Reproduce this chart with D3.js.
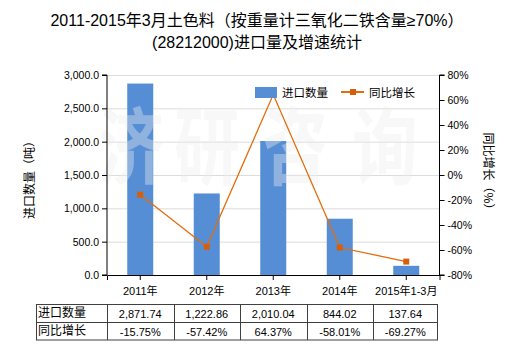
<!DOCTYPE html>
<html><head><meta charset="utf-8">
<script src="https://cdn.jsdelivr.net/npm/d3@7"></script>
<style>body{margin:0;background:#fff}svg{display:block}text{font-family:"Liberation Sans",Arial,"Noto Sans CJK SC",sans-serif}</style>
</head><body><svg id="c" width="520" height="350"></svg>
<script>
const categories = ["2011年","2012年","2013年","2014年","2015年1-3月"];
const importQty = [2871.74, 1222.86, 2010.04, 844.02, 137.64];
const yoyGrowth = [-15.75, -57.42, 64.37, -58.01, -69.27];
const qtyLabels = ["2,871.74","1,222.86","2,010.04","844.02","137.64"];
const growthLabels = ["-15.75%","-57.42%","64.37%","-58.01%","-69.27%"];
const leftTicks = [0,500,1000,1500,2000,2500,3000];
const rightTicks = [-80,-60,-40,-20,0,20,40,60,80];
const titleLines = ["2011-2015年3月土色料（按重量计三氧化二铁含量≥70%）","(28212000)进口量及增速统计"];
const watermarkChars = ["济","研","咨","询"];

const svg = d3.select("#c");
const L=107, R=439.5, T=75, B=275;
const x = d3.scaleBand().domain(categories).range([L,R]);
const yL = d3.scaleLinear().domain([0,3000]).range([B,T]);
const yR = d3.scaleLinear().domain([-80,80]).range([B,T]);
const cjk = '"Noto Sans CJK SC",sans-serif';
const latinFirst = '"Liberation Sans",Arial,"Noto Sans CJK SC",sans-serif';

// title
svg.selectAll("text.title").data(titleLines).enter().append("text")
  .attr("x",257).attr("y",(d,i)=>26+i*22).attr("text-anchor","middle")
  .style("font-family",latinFirst).style("font-size","16px").attr("fill","#000").text(d=>d);

// gridlines
svg.append("g").selectAll("line").data(leftTicks.slice(1)).enter().append("line")
  .attr("x1",L).attr("x2",R).attr("y1",d=>yL(d)+0.5).attr("y2",d=>yL(d)+0.5)
  .attr("stroke","#dcdcdc").attr("stroke-width",1);

// bars
const bw = 26;
svg.append("g").selectAll("rect").data(importQty).enter().append("rect")
  .attr("x",(d,i)=>x(categories[i])+x.bandwidth()/2-bw/2)
  .attr("y",d=>yL(d)).attr("width",bw).attr("height",d=>B-yL(d))
  .attr("fill","#558ed5");

// watermark
const wmX = [131,207,295,385];
svg.append("g").selectAll("text").data(watermarkChars).enter().append("text")
  .attr("transform",(d,i)=>`translate(${wmX[i]},178) scale(0.78,1)`)
  .attr("text-anchor","middle")
  .style("font-family",latinFirst).style("font-size","84px").style("font-weight","bold")
  .attr("fill","#ededed").attr("opacity",0.38).text(d=>d);

// line
const line = d3.line().x((d,i)=>x(categories[i])+x.bandwidth()/2).y(d=>yR(d));
svg.append("path").datum(yoyGrowth).attr("d",line).attr("fill","none")
  .attr("stroke","#e46c0a").attr("stroke-width",1.3);
svg.append("g").selectAll("rect").data(yoyGrowth).enter().append("rect")
  .attr("x",(d,i)=>x(categories[i])+x.bandwidth()/2-3).attr("y",d=>yR(d)-3)
  .attr("width",6).attr("height",6).attr("fill","#d55f0c");

// axes
const axL = d3.axisLeft(yL).tickValues(leftTicks).tickSize(5).tickFormat(d3.format(",.1f"));
const gL = svg.append("g").attr("transform",`translate(${L},0)`).call(axL);
const axR = d3.axisRight(yR).tickValues(rightTicks).tickSize(5).tickFormat(d=>d+"%");
const gR = svg.append("g").attr("transform",`translate(${R},0)`).call(axR);
const axB = d3.axisBottom(x).tickSize(5).tickPadding(7);
const gB = svg.append("g").attr("transform",`translate(0,${B})`).call(axB);
[gL,gR,gB].forEach(g=>{
  g.selectAll("path.domain").attr("stroke","#000");
  g.selectAll(".tick line").attr("stroke","#000");
  g.selectAll("text").attr("fill","#000").style("font-size","10.5px")
   .style("font-family",latinFirst);
});
gB.selectAll("text").style("font-size","11px");
gL.select("path.domain").attr("d",`M-5,${T}H0V${B}H-5`);
gR.select("path.domain").attr("d",`M5,${T}H0V${B}H5`);

// axis titles
svg.append("text").attr("transform","translate(34,177) rotate(-90)").attr("text-anchor","middle")
  .style("font-family",cjk).style("font-size","12px").attr("fill","#000").text("进口数量（吨）");
svg.append("text").attr("transform","translate(484,174) rotate(90)").attr("text-anchor","middle")
  .style("font-family",cjk).style("font-size","12px").attr("fill","#000").text("同比增长（%）");

// legend
svg.append("rect").attr("x",255).attr("y",87).attr("width",22).attr("height",11).attr("fill","#558ed5");
svg.append("text").attr("x",282).attr("y",97).style("font-family",cjk).style("font-size","11.5px").attr("fill","#000").text("进口数量");
svg.append("line").attr("x1",341).attr("x2",364).attr("y1",92).attr("y2",92).attr("stroke","#e46c0a").attr("stroke-width",2);
svg.append("rect").attr("x",350).attr("y",89).attr("width",6).attr("height",6).attr("fill","#d55f0c");
svg.append("text").attr("x",369).attr("y",97).style("font-family",cjk).style("font-size","11.5px").attr("fill","#000").text("同比增长");

// table
const tT=304.5, tM=322.5, tB=340, tL=36.5, tR=437.5;
const tg = svg.append("g");
tg.append("rect").attr("x",tL).attr("y",tT).attr("width",tR-tL).attr("height",tB-tT)
  .attr("fill","none").attr("stroke","#404040");
tg.append("line").attr("x1",tL).attr("x2",tR).attr("y1",tM).attr("y2",tM).attr("stroke","#404040");
tg.selectAll("line.v").data(categories).enter().append("line")
  .attr("x1",d=>Math.round(x(d))+0.5).attr("x2",d=>Math.round(x(d))+0.5).attr("y1",tT).attr("y2",tB).attr("stroke","#404040");
const rows = [["进口数量",qtyLabels],["同比增长",growthLabels]];
rows.forEach((r,ri)=>{
  const yb = ri===0 ? 318 : 335.5;
  tg.append("text").attr("x",38).attr("y",yb-1).style("font-family",cjk).style("font-size","12px").attr("fill","#000").text(r[0]);
  tg.selectAll(null).data(r[1]).enter().append("text")
    .attr("x",(d,i)=>{const a=x(categories[i]); const b=(i===categories.length-1)?tR:a+x.bandwidth(); return (a+b)/2;})
    .attr("y",yb).attr("text-anchor","middle").style("font-size","11px").attr("fill","#000").text(d=>d);
});
</script></body></html>
